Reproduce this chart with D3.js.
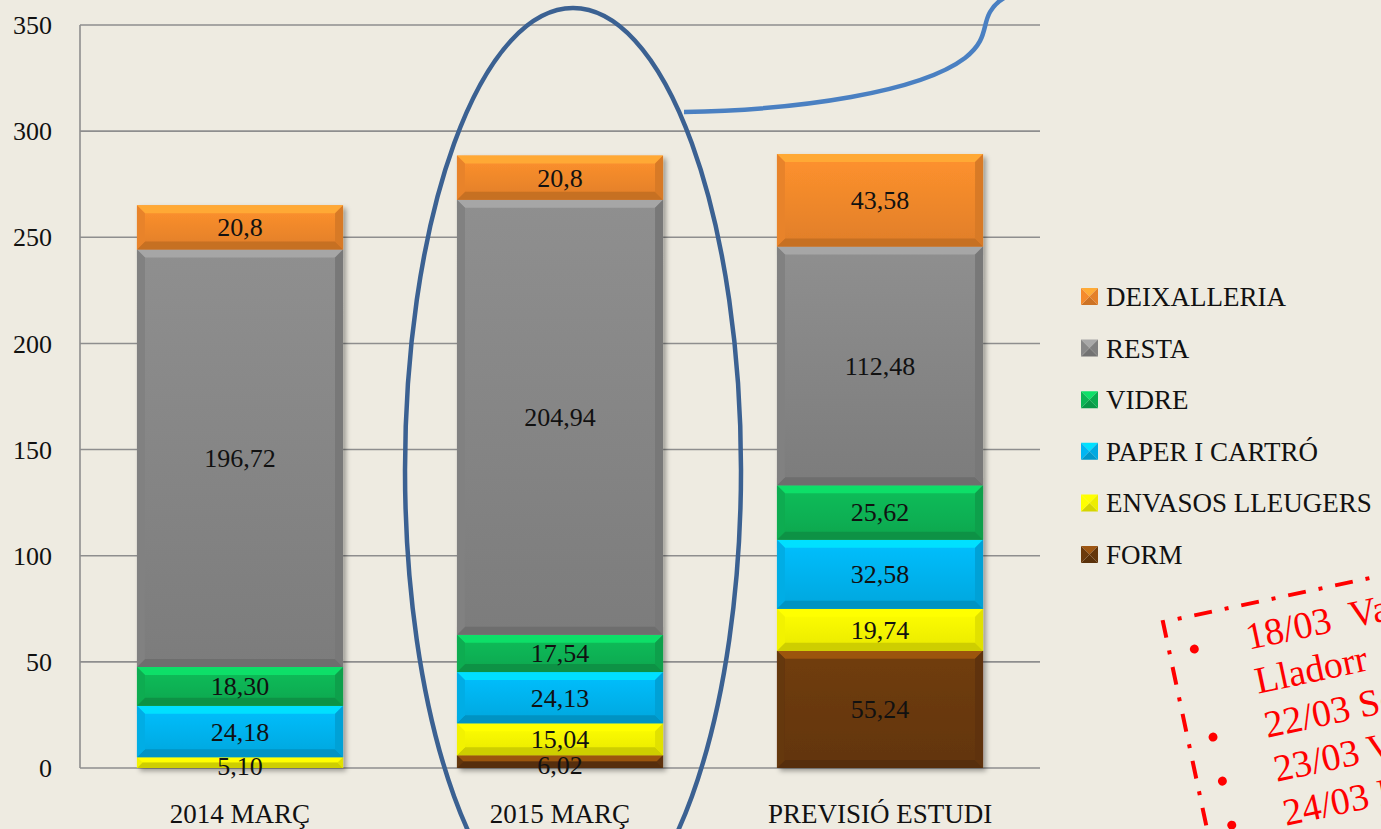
<!DOCTYPE html>
<html><head><meta charset="utf-8">
<script src="https://cdn.jsdelivr.net/npm/d3@7"></script>
<style>
html,body{margin:0;padding:0;background:#EEEBE1;overflow:hidden;}
svg{display:block;}
text{font-family:"Liberation Serif","Times New Roman",serif;}
</style></head>
<body>
<svg id="c" width="1381" height="829"></svg>
<script>
// ---- data ----
const categories = ["2014 MARÇ", "2015 MARÇ", "PREVISIÓ ESTUDI"];
const seriesNames = ["FORM", "ENVASOS LLEUGERS", "PAPER I CARTRÓ", "VIDRE", "RESTA", "DEIXALLERIA"];
const form        = [null, "6,02", "55,24"];
const envasos     = ["5,10", "15,04", "19,74"];
const paper       = ["24,18", "24,13", "32,58"];
const vidre       = ["18,30", "17,54", "25,62"];
const resta       = ["196,72", "204,94", "112,48"];
const deixalleria = ["20,8", "20,8", "43,58"];
const yTicks = [0, 50, 100, 150, 200, 250, 300, 350];
const legendOrder = ["DEIXALLERIA", "RESTA", "VIDRE", "PAPER I CARTRÓ", "ENVASOS LLEUGERS", "FORM"];
const noteLines = [
  {bullet: true,  text: "18/03\u00a0\u00a0Va"},
  {bullet: false, text: "Lladorr"},
  {bullet: true,  text: "22/03 Se"},
  {bullet: true,  text: "23/03 V"},
  {bullet: true,  text: "24/03 I"}
];

const colors = {
  "FORM": "#6B3A0C",
  "ENVASOS LLEUGERS": "#FFFF00",
  "PAPER I CARTRÓ": "#00B6F2",
  "VIDRE": "#0BB555",
  "RESTA": "#888888",
  "DEIXALLERIA": "#F58A2C"
};

const seriesLabels = {
  "FORM": form, "ENVASOS LLEUGERS": envasos, "PAPER I CARTRÓ": paper,
  "VIDRE": vidre, "RESTA": resta, "DEIXALLERIA": deixalleria
};
const num = s => s == null ? 0 : +s.replace(",", ".");
const rows = categories.map((c, i) => {
  const r = {cat: c};
  seriesNames.forEach(k => { r[k] = num(seriesLabels[k][i]); r[k + "_lbl"] = seriesLabels[k][i]; });
  return r;
});

const svg = d3.select("#c");
const defs = svg.append("defs");
const f = defs.append("filter").attr("id", "sh").attr("x", "-5%").attr("y", "-5%").attr("width", "115%").attr("height", "115%");
f.append("feDropShadow").attr("dx", 3).attr("dy", 3).attr("stdDeviation", 2.5).attr("flood-color", "#000").attr("flood-opacity", 0.35);

seriesNames.forEach((k, i) => {
  const c = d3.color(colors[k]);
  const g = defs.append("linearGradient").attr("id", "g" + i).attr("x1", 0).attr("y1", 0).attr("x2", 0).attr("y2", 1);
  g.append("stop").attr("offset", "0%").attr("stop-color", c.brighter(0.15));
  g.append("stop").attr("offset", "100%").attr("stop-color", c.darker(0.25));
});

const x = d3.scaleBand().domain(categories).range([80, 1040]).paddingInner(0.356).paddingOuter(0.178);
const y = d3.scaleLinear().domain([0, 350]).range([768, 25]);

// grid
svg.append("g").selectAll("line").data(yTicks).join("line")
  .attr("x1", 80).attr("x2", 1040).attr("y1", d => y(d)).attr("y2", d => y(d))
  .attr("stroke", "#8E8E8E").attr("stroke-width", 1.6);
svg.append("line").attr("x1", 80).attr("x2", 80).attr("y1", y(350)).attr("y2", y(0))
  .attr("stroke", "#8E8E8E").attr("stroke-width", 1.6);

// y axis labels
const yAxis = d3.axisLeft(y).tickValues(yTicks).tickSize(0).tickPadding(28).tickFormat(d3.format("d"));
const ya = svg.append("g").attr("transform", "translate(80,0)").call(yAxis);
ya.select(".domain").remove();
ya.selectAll("text").attr("font-size", 26).attr("fill", "#111").attr("font-family", "Liberation Serif, serif").attr("dy", "0.33em");

// x axis labels
const xAxis = d3.axisBottom(x).tickSize(0).tickPadding(0);
const xa = svg.append("g").attr("transform", "translate(0,768)").call(xAxis);
xa.select(".domain").remove();
xa.selectAll("text").attr("font-size", 27).attr("fill", "#111").attr("font-family", "Liberation Serif, serif").attr("dy", 0).attr("y", 55);

// stacked bars
const stack = d3.stack().keys(seriesNames)(rows);
const barsG = svg.append("g");
const poly = pts => "M" + pts.map(p => p.join(",")).join("L") + "Z";

rows.forEach((r, ci) => {
  const g = barsG.append("g").attr("filter", "url(#sh)");
  stack.forEach((s, si) => {
    const d = s[ci];
    if (d[1] - d[0] <= 0) return;
    const x0 = x(r.cat), x1 = x0 + x.bandwidth();
    const yt = y(d[1]), yb = y(d[0]);
    const h = yb - yt;
    const b = Math.min(8, h / 2);
    const c = d3.color(colors[s.key]);
    g.append("rect").attr("x", x0).attr("y", yt).attr("width", x1 - x0).attr("height", h).attr("fill", "url(#g" + si + ")");
    const top = s.key === "FORM" ? c.brighter(1.1) : c.brighter(0.6);
    g.append("path").attr("d", poly([[x0, yt], [x1, yt], [x1 - b, yt + b], [x0 + b, yt + b]])).attr("fill", top).attr("opacity", 0.95);
    g.append("path").attr("d", poly([[x0, yb], [x1, yb], [x1 - b, yb - b], [x0 + b, yb - b]])).attr("fill", c.darker(0.6));
    g.append("path").attr("d", poly([[x0, yt], [x0 + b, yt + b], [x0 + b, yb - b], [x0, yb]])).attr("fill", c.darker(0.15));
    g.append("path").attr("d", poly([[x1, yt], [x1 - b, yt + b], [x1 - b, yb - b], [x1, yb]])).attr("fill", c.darker(0.35));
  });
});

// data labels
rows.forEach((r, ci) => {
  stack.forEach(s => {
    const d = s[ci];
    const lbl = r[s.key + "_lbl"];
    if (lbl == null) return;
    svg.append("text")
      .attr("x", x(r.cat) + x.bandwidth() / 2)
      .attr("y", (y(d[0]) + y(d[1])) / 2 + 9 + ((d[1] - d[0]) < 8 ? 3 : 0))
      .attr("text-anchor", "middle").attr("font-size", 26).attr("fill", "#111")
      .text(lbl);
  });
});

// legend
const lg = svg.append("g");
legendOrder.forEach((k, i) => {
  const cy = 297 + i * 51.6;
  const c = d3.color(colors[k]);
  const mx = 1081, my = cy - 9, s = 17, m = [mx + s / 2, my + s / 2];
  lg.append("path").attr("d", poly([[mx, my], [mx + s, my], m])).attr("fill", k === "FORM" ? c.brighter(1.1) : c.brighter(0.6));
  lg.append("path").attr("d", poly([[mx, my + s], [mx + s, my + s], m])).attr("fill", c.darker(0.5));
  lg.append("path").attr("d", poly([[mx, my], [mx, my + s], m])).attr("fill", c);
  lg.append("path").attr("d", poly([[mx + s, my], [mx + s, my + s], m])).attr("fill", c.darker(0.2));
  lg.append("text").attr("x", 1106).attr("y", cy + 9).attr("font-size", 27).attr("fill", "#111").text(k);
});

// ellipse highlight around 2015
svg.append("ellipse").attr("cx", x("2015 MARÇ") + x.bandwidth() / 2 + 13).attr("cy", 470).attr("rx", 168).attr("ry", 462)
  .attr("fill", "none").attr("stroke", "#3B6192").attr("stroke-width", 4.5);

// callout curve
svg.append("path")
  .attr("d", "M684,112 C800,110 920,92 965,58 C988,40 982,26 990,12 C994,5 999,1 1004,-2")
  .attr("fill", "none").attr("stroke", "#4A80C2").attr("stroke-width", 4.5);

// red dashed note
const note = svg.append("g").attr("transform", "translate(1163,622) rotate(-12)");
note.append("path").attr("d", "M0,400 L0,0 L400,0").attr("fill", "none")
  .attr("stroke", "#FF0000").attr("stroke-width", 4).attr("stroke-dasharray", "18 13 4 13");
noteLines.forEach((l, i) => {
  const by = 45 + i * 45;
  if (l.bullet) note.append("circle").attr("cx", 25).attr("cy", by - 12).attr("r", 4.5).attr("fill", "#FF0000");
  note.append("text").attr("x", 78).attr("y", by).attr("font-size", 38).attr("fill", "#FF0000").text(l.text);
});
</script>
</body></html>
